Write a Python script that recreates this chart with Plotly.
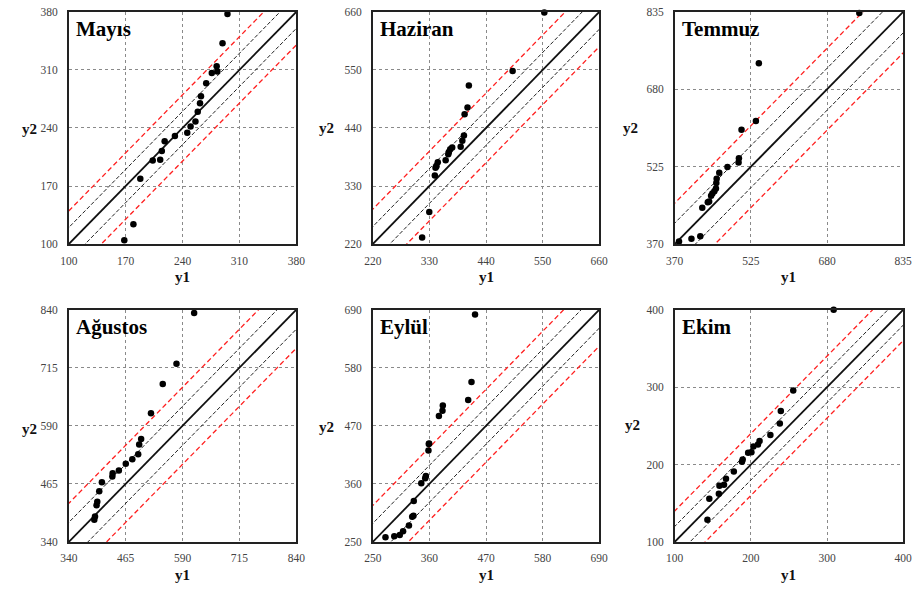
import plotly.graph_objects as go

W, H = 922, 591

# ---------------- data ----------------
months = ["Mayıs", "Haziran", "Temmuz", "Ağustos", "Eylül", "Ekim"]

ticks_mayis = [100, 170, 240, 310, 380]
ticks_haziran = [220, 330, 440, 550, 660]
ticks_temmuz = [370, 525, 680, 835]
ticks_agustos = [340, 465, 590, 715, 840]
ticks_eylul = [250, 360, 470, 580, 690]
ticks_ekim = [100, 200, 300, 400]

# inner (black dashed) and outer (red dashed) band offsets
band_inner = [20, 33, 42, 42, 35, 20]
band_outer = [40, 66, 82, 83, 69, 40]

x_mayis = [168.3, 179.5, 188.0, 203.3, 212.5, 214.5, 218.0, 230.6, 245.8, 249.9,
           255.9, 258.7, 261.5, 262.7, 269.1, 276.0, 282.0, 282.8, 289.2, 295.3]
y_mayis = [104.7, 124.0, 178.8, 200.8, 201.6, 212.2, 224.0, 230.4, 234.3, 241.8,
           247.7, 259.5, 269.7, 278.4, 293.8, 306.4, 314.3, 308.0, 342.2, 377.3]

x_haziran = [315.9, 329.8, 340.6, 341.9, 343.8, 346.3, 361.6, 366.7, 367.9, 370.5,
             374.3, 390.8, 394.0, 397.1, 398.4, 404.1, 406.7, 491.7, 553.3]
y_haziran = [232.4, 280.7, 350.1, 364.4, 367.5, 374.9, 378.6, 390.4, 394.7, 399.7,
             402.8, 404.6, 415.8, 425.7, 466.0, 479.0, 520.5, 547.8, 658.7]

x_temmuz = [378.7, 404.0, 422.0, 426.0, 437.3, 440.0, 444.0, 446.6, 450.6, 453.9,
            454.6, 455.3, 460.6, 477.3, 499.9, 500.6, 505.9, 535.2, 541.2, 745.7]
y_temmuz = [375.2, 380.5, 385.7, 442.6, 453.7, 455.0, 466.8, 471.4, 476.0, 481.2,
            492.3, 500.8, 512.6, 524.3, 533.5, 542.0, 598.9, 616.6, 732.3, 833.0]

x_agustos = [361.6, 396.0, 397.6, 401.0, 402.6, 406.9, 412.7, 435.7, 436.4, 450.0,
             465.2, 479.6, 492.5, 494.7, 499.0, 520.6, 546.5, 576.7, 615.5]
y_agustos = [339.0, 387.9, 394.9, 418.9, 426.6, 449.2, 468.2, 480.8, 487.9, 493.5,
             508.3, 518.2, 528.7, 549.9, 561.8, 616.8, 680.1, 723.8, 833.0]

x_eylul = [274.7, 291.8, 302.5, 308.9, 320.3, 326.6, 329.1, 329.7, 344.3, 351.9,
           353.2, 358.2, 358.9, 359.5, 378.5, 385.4, 386.1, 435.4, 441.8, 448.7]
y_eylul = [258.7, 260.5, 263.0, 270.4, 280.9, 297.6, 299.4, 327.3, 361.2, 370.5,
           374.8, 423.0, 435.4, 436.6, 488.6, 498.5, 508.3, 518.8, 552.8, 680.8]

x_ekim = [142.9, 145.4, 157.9, 158.7, 164.7, 167.3, 177.6, 188.3, 189.2, 196.4,
          200.7, 203.3, 209.3, 211.4, 225.6, 238.0, 239.3, 255.6, 308.7]
y_ekim = [128.7, 155.8, 162.1, 172.7, 173.9, 181.5, 190.8, 203.5, 206.5, 215.3,
          215.8, 223.4, 225.9, 230.5, 238.2, 253.0, 269.0, 295.6, 400.0]

ticks_all = [ticks_mayis, ticks_haziran, ticks_temmuz, ticks_agustos, ticks_eylul, ticks_ekim]
xs_all = [x_mayis, x_haziran, x_temmuz, x_agustos, x_eylul, x_ekim]
ys_all = [y_mayis, y_haziran, y_temmuz, y_agustos, y_eylul, y_ekim]

# ---------------- layout geometry (pixels) ----------------
col_px = [(61, 293), (371, 602), (679, 912)]
row_px = [(6, 243), (310, 547)]
y2_title_x = [21, 324, 634, 21, 324, 636]
y2_title_y = [126, 125, 125, 432, 430, 428]

SERIF = "Liberation Serif"

fig = go.Figure()
layout = dict(
    width=W, height=H, margin=dict(l=0, r=0, t=0, b=0),
    paper_bgcolor="white", plot_bgcolor="white", showlegend=False,
    font=dict(family=SERIF, color="#444444", size=11),
)
annotations = []

for i in range(6):
    r, c = divmod(i, 3)
    x0, x1 = col_px[c]
    yt, yb = row_px[r]
    xa = "xaxis" if i == 0 else f"xaxis{i+1}"
    ya = "yaxis" if i == 0 else f"yaxis{i+1}"
    xref = "x" if i == 0 else f"x{i+1}"
    yref = "y" if i == 0 else f"y{i+1}"
    t = ticks_all[i]
    lo, hi = t[0], t[-1]
    ax_common = dict(
        range=[lo, hi], tickvals=t, ticktext=[str(v) for v in t],
        showgrid=True, gridcolor="#8a8a8a", griddash="3px,3px", gridwidth=1,
        zeroline=False, showline=True, linecolor="#222222", linewidth=1.5,
        mirror=True, ticks="", tickfont=dict(family=SERIF, size=11.5, color="#444444"),
    )
    layout[xa] = dict(ax_common, domain=[x0 / W, x1 / W], anchor=yref,
                      ticklabelstandoff=5)
    layout[ya] = dict(ax_common, domain=[1 - yb / H, 1 - yt / H], anchor=xref,
                      ticklabelstandoff=7)

    ext = [lo - 200, hi + 200]
    d1, d2 = band_inner[i], band_outer[i]
    # red outer bands
    for s in (1, -1):
        fig.add_trace(go.Scatter(x=ext, y=[v + s * d2 for v in ext], mode="lines",
                                 line=dict(color="#ff2020", width=1.3, dash="5px,3px"),
                                 xaxis=xref, yaxis=yref, hoverinfo="skip"))
    # black dashed inner bands
    for s in (1, -1):
        fig.add_trace(go.Scatter(x=ext, y=[v + s * d1 for v in ext], mode="lines",
                                 line=dict(color="#222222", width=1, dash="4px,2px"),
                                 xaxis=xref, yaxis=yref, hoverinfo="skip"))
    # 1:1 line
    fig.add_trace(go.Scatter(x=ext, y=ext, mode="lines",
                             line=dict(color="#111111", width=1.8),
                             xaxis=xref, yaxis=yref, hoverinfo="skip"))
    # points
    fig.add_trace(go.Scatter(x=xs_all[i], y=ys_all[i], mode="markers",
                             marker=dict(color="black", size=6.5),
                             cliponaxis=False, xaxis=xref, yaxis=yref))

    # panel title
    annotations.append(dict(text=f"<b>{months[i]}</b>", xref="paper", yref="paper",
                            x=(x0 + 5) / W, y=1 - (yt + 3) / H, xanchor="left", yanchor="top",
                            showarrow=False, font=dict(family=SERIF, size=21, color="black")))
    # axis titles
    annotations.append(dict(text="<b>y1</b>", xref="paper", yref="paper",
                            x=((x0 + x1) / 2) / W, y=1 - (yb + 34) / H,
                            xanchor="center", yanchor="middle", showarrow=False,
                            font=dict(family=SERIF, size=15, color="#111111")))
    annotations.append(dict(text="<b>y2</b>", xref="paper", yref="paper",
                            x=y2_title_x[i] / W, y=1 - y2_title_y[i] / H,
                            xanchor="center", yanchor="middle", showarrow=False,
                            font=dict(family=SERIF, size=15, color="#111111")))

layout["annotations"] = annotations
fig.update_layout(**layout)
fig.write_html("out.html")
